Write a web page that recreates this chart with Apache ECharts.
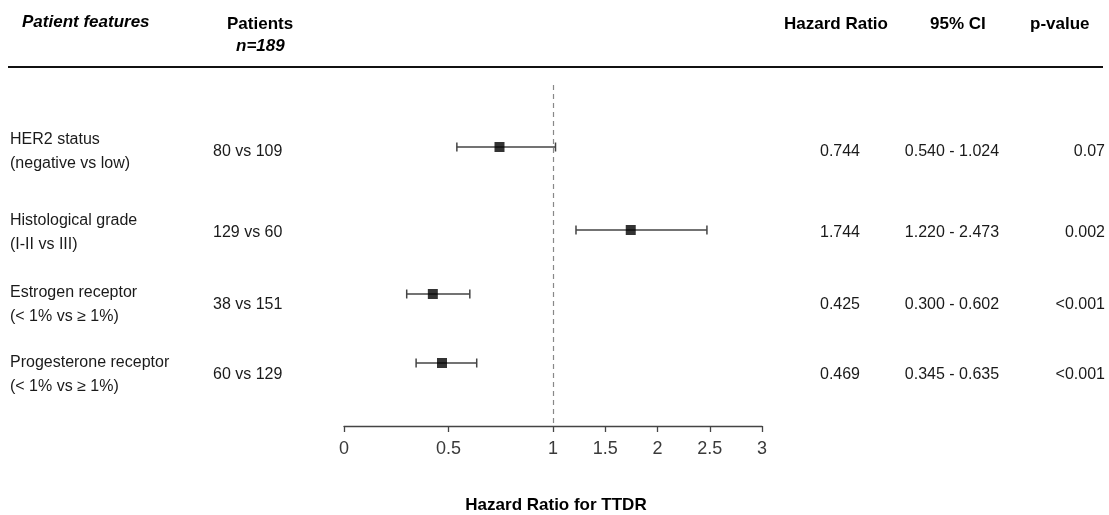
<!DOCTYPE html>
<html>
<head>
<meta charset="utf-8">
<script src="https://cdn.jsdelivr.net/npm/echarts@6/dist/echarts.min.js"></script>
<style>
html, body { margin: 0; padding: 0; background: #fff; }
#main { width: 1109px; height: 515px; }
</style>
</head>
<body>
<div id="main"></div>
<script>
// data
var features = ['HER2 status', 'Histological grade', 'Estrogen receptor', 'Progesterone receptor'];
var subLabels = ['(negative vs low)', '(I-II vs III)', '(< 1% vs \u2265 1%)', '(< 1% vs \u2265 1%)'];
var patients = ['80 vs 109', '129 vs 60', '38 vs 151', '60 vs 129'];
var hr = [0.744, 1.744, 0.425, 0.469];
var ciLow = [0.540, 1.220, 0.300, 0.345];
var ciHigh = [1.024, 2.473, 0.602, 0.635];
var pValues = ['0.07', '0.002', '<0.001', '<0.001'];
var tickValues = [0, 0.5, 1, 1.5, 2, 2.5, 3];

// row layout (y in the plot's pixel-like units)
var markY = [147, 230, 294, 363];
var textY = [152, 233, 305, 375];

var FONT = '"Liberation Sans", Arial, Helvetica, sans-serif';

// the axis gives 0-1 and 1-3 the same width
function fwd(v) { return v <= 1 ? v : 1 + (v - 1) / 2; }
function inv(t) { return t <= 1 ? t : 1 + (t - 1) * 2; }

var chart = echarts.init(document.getElementById('main'));

var barData = [], pointData = [];
for (var i = 0; i < hr.length; i++) {
	barData.push([fwd(ciLow[i]), fwd(ciHigh[i]), markY[i]]);
	pointData.push([fwd(hr[i]), markY[i]]);
}

function txt(s, x, y, opt) {
	opt = opt || {};
	return {
		type: 'text', x: x, y: y, silent: true,
		style: {
			text: s,
			fontSize: opt.size || 16,
			fontWeight: opt.weight || 'normal',
			fontStyle: opt.style || 'normal',
			fontFamily: FONT,
			fill: opt.color || '#1a1a1a',
			textAlign: opt.align || 'left',
			textVerticalAlign: 'middle'
		}
	};
}

var graphics = [
	txt('Patient features', 22, 22, {size: 17, weight: 'bold', style: 'italic', color: '#000'}),
	txt('Patients', 227, 24, {size: 17, weight: 'bold', color: '#000'}),
	txt('n=189', 236, 46, {size: 17, weight: 'bold', style: 'italic', color: '#000'}),
	txt('Hazard Ratio', 784, 24, {size: 17, weight: 'bold', color: '#000'}),
	txt('95% CI', 930, 24, {size: 17, weight: 'bold', color: '#000'}),
	txt('p-value', 1030, 24, {size: 17, weight: 'bold', color: '#000'}),
	txt('Hazard Ratio for TTDR', 556, 505, {size: 17, weight: 'bold', color: '#000', align: 'center'}),
	{
		type: 'line', silent: true,
		shape: {x1: 8, y1: 67, x2: 1103, y2: 67},
		style: {stroke: '#111', lineWidth: 1.8}
	}
];
for (var k = 0; k < features.length; k++) {
	graphics.push(txt(features[k], 10, textY[k] - 12));
	graphics.push(txt(subLabels[k], 10, textY[k] + 12));
	graphics.push(txt(patients[k], 213, textY[k]));
	graphics.push(txt(hr[k].toFixed(3), 840, textY[k], {align: 'center'}));
	graphics.push(txt(ciLow[k].toFixed(3) + ' - ' + ciHigh[k].toFixed(3), 952, textY[k], {align: 'center'}));
	graphics.push(txt(pValues[k], 1105, textY[k], {align: 'right'}));
}

var tickPos = tickValues.map(fwd);

var option = {
	animation: false,
	grid: { left: 344, right: 347, top: 67, bottom: 89 },
	xAxis: {
		type: 'value',
		min: 0,
		max: 2,
		splitLine: { show: false },
		axisLine: { show: true, lineStyle: { color: '#444', width: 1.3 } },
		axisTick: { show: true, customValues: tickPos, length: 6, lineStyle: { color: '#444', width: 1.3 } },
		axisLabel: {
			customValues: tickPos,
			margin: 14,
			fontSize: 18,
			color: '#3a3a3a',
			fontFamily: FONT,
			formatter: function (v) { return String(+inv(v).toFixed(2)); }
		}
	},
	yAxis: { type: 'value', inverse: true, min: 67, max: 426, show: false },
	graphic: graphics,
	series: [
		{
			type: 'custom',
			silent: true,
			data: barData,
			renderItem: function (params, api) {
				var y = api.value(2);
				var a = api.coord([api.value(0), y]);
				var b = api.coord([api.value(1), y]);
				var st = { stroke: '#444', lineWidth: 1.5 };
				return {
					type: 'group',
					children: [
						{ type: 'line', shape: { x1: a[0], y1: a[1], x2: b[0], y2: b[1] }, style: st },
						{ type: 'line', shape: { x1: a[0], y1: a[1] - 4.5, x2: a[0], y2: a[1] + 4.5 }, style: st },
						{ type: 'line', shape: { x1: b[0], y1: b[1] - 4.5, x2: b[0], y2: b[1] + 4.5 }, style: st }
					]
				};
			},
			z: 2
		},
		{
			type: 'scatter',
			silent: true,
			symbol: 'rect',
			symbolSize: 10,
			itemStyle: { color: '#000' },
			data: pointData,
			z: 3,
			markLine: {
				silent: true,
				symbol: 'none',
				label: { show: false },
				lineStyle: { color: '#888', type: [5, 4], width: 1.2 },
				data: [[{ coord: [fwd(1), 85] }, { coord: [fwd(1), 426] }]]
			}
		}
	]
};
chart.setOption(option);
</script>
</body>
</html>
